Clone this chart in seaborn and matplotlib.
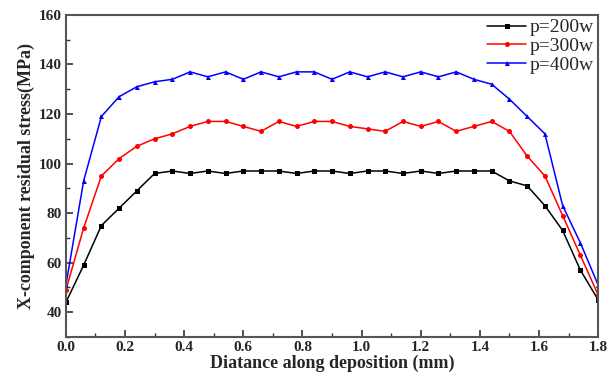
import numpy as np
import pandas as pd
import matplotlib
matplotlib.use("Agg")
import matplotlib.pyplot as plt
import seaborn as sns
from matplotlib.ticker import MultipleLocator

distance = [round(0.06 * i, 2) for i in range(31)]
p200 = [44, 59, 75, 82, 89, 96, 97, 96, 97, 96, 97, 97, 97, 96, 97, 97, 96, 97, 97, 96,
        97, 96, 97, 97, 97, 93, 91, 83, 73, 57, 45]
p300 = [49, 74, 95, 102, 107, 110, 112, 115, 117, 117, 115, 113, 117, 115, 117, 117, 115, 114, 113, 117,
        115, 117, 113, 115, 117, 113, 103, 95, 79, 63, 47]
p400 = [51, 93, 119, 127, 131, 133, 134, 137, 135, 137, 134, 137, 135, 137, 137, 134, 137, 135, 137, 135,
        137, 135, 137, 134, 132, 126, 119, 112, 83, 68, 51]
series_names = ["p=200w", "p=300w", "p=400w"]
xticks = [0.0, 0.2, 0.4, 0.6, 0.8, 1.0, 1.2, 1.4, 1.6, 1.8]
yticks = [40, 60, 80, 100, 120, 140, 160]

df = pd.concat([
    pd.DataFrame({"x": distance, "y": vals, "s": name})
    for name, vals in zip(series_names, [p200, p300, p400])
])

sns.set_theme(style="ticks")
plt.rcParams["font.family"] = ["Liberation Serif", "DejaVu Serif"]

fig = plt.figure(figsize=(6.16, 3.72), dpi=100)
ax = fig.add_axes([0.107, 0.094, 0.864, 0.866])

sns.lineplot(data=df, x="x", y="y", hue="s", style="s",
             palette=["black", "red", "blue"],
             markers=["s", "o", "^"], dashes=False,
             markersize=3.6, linewidth=1.1, markeredgewidth=0,
             ax=ax)

ax.set_xlim(0, 1.8)
ax.set_ylim(30, 160)
ax.set_xticks(xticks)
ax.set_xticklabels([f"{v:.1f}" for v in xticks], fontweight="bold")
ax.set_yticks(yticks)
ax.set_yticklabels([str(v) for v in yticks], fontweight="bold")
ax.xaxis.set_minor_locator(MultipleLocator(0.1))
ax.yaxis.set_minor_locator(MultipleLocator(10))
ax.tick_params(which="both", direction="in", top=False, right=False, color="#333333")
ax.tick_params(which="major", length=5, width=1.2, labelsize=11, pad=3)
ax.tick_params(which="minor", length=3, width=1.0)

for sp in ax.spines.values():
    sp.set_color("#555555")
    sp.set_linewidth(1.5)

ax.set_xlabel("Diatance along deposition (mm)", fontsize=13, fontweight="bold", labelpad=0)
ax.set_ylabel("X-component residual stress(MPa)", fontsize=13, fontweight="bold", labelpad=3)

leg = ax.legend(loc="upper right", frameon=False, fontsize=14, handlelength=2.0,
                handletextpad=0.2, labelspacing=0.05, borderaxespad=0.1, borderpad=0.1)
leg.set_title(None)

fig.savefig("out.png", dpi=100)
